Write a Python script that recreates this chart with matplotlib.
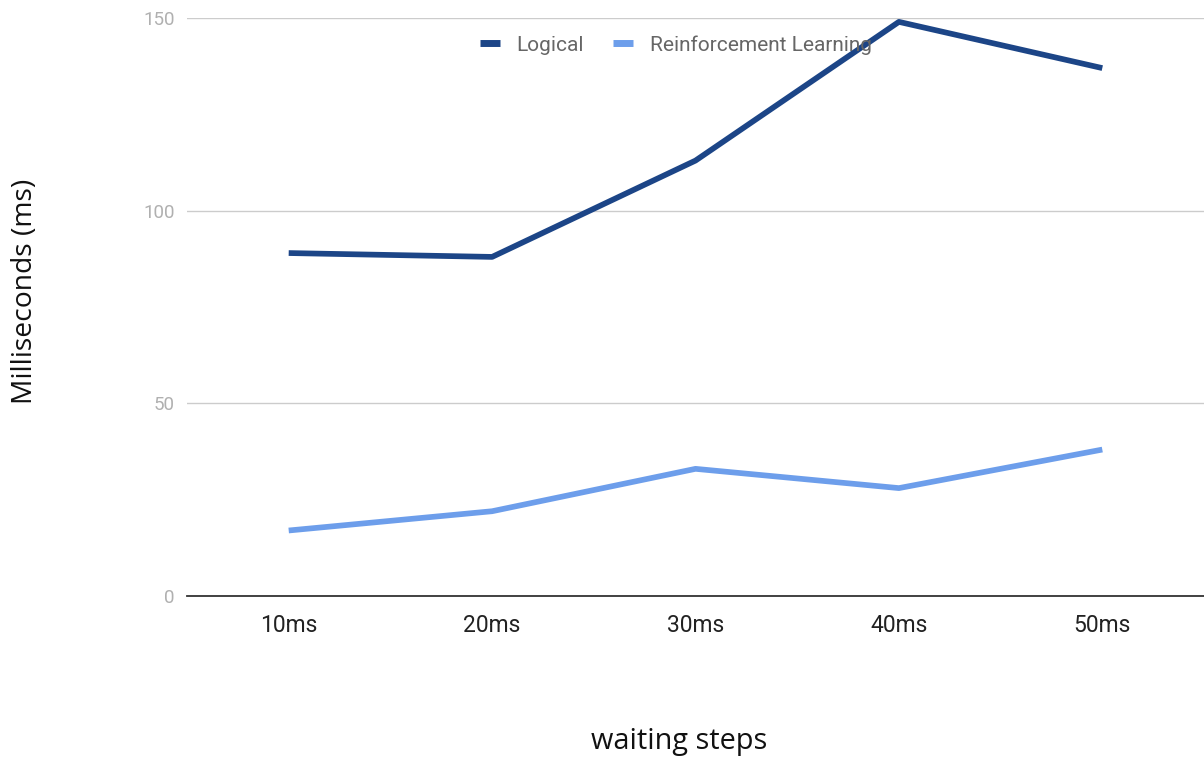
import matplotlib
matplotlib.use("Agg")
import matplotlib.pyplot as plt
import numpy as np

categories = ["10ms", "20ms", "30ms", "40ms", "50ms"]
logical = [89, 88, 113, 149, 137]
reinforcement = [17, 22, 33, 28, 38]
series_names = ["Logical", "Reinforcement Learning"]
y_ticks = [0, 50, 100, 150]

fig = plt.figure(figsize=(12.04, 7.59), dpi=100)
ax = fig.add_axes([187 / 1204, 1 - 596 / 759, 1 - 187 / 1204, (596 - 18) / 759])

x = np.arange(len(categories))
l1, = ax.plot(x, logical, color="#1c4587", lw=4.1, solid_capstyle="butt",
              solid_joinstyle="round", clip_on=False, zorder=3)
l2, = ax.plot(x, reinforcement, color="#6d9eeb", lw=4.1, solid_capstyle="butt",
              solid_joinstyle="round", clip_on=False, zorder=3)

ax.set_xlim(-0.5, len(categories) - 0.5)
ax.set_ylim(0, 150)
ax.set_yticks(y_ticks)
ax.set_xticks(x)
ax.set_xticklabels(categories, family="Roboto", fontsize=16.5, color="#222222")
ax.set_yticklabels([str(v) for v in y_ticks], family="Roboto", fontsize=13.5,
                   color="#b0b0b0")
ax.tick_params(axis="both", length=0)
ax.tick_params(axis="x", pad=13)
ax.tick_params(axis="y", pad=9)

ax.grid(axis="y", color="#cccccc", lw=1.0, zorder=0)
ax.set_axisbelow(True)
for side in ["top", "right", "left"]:
    ax.spines[side].set_visible(False)
ax.spines["bottom"].set_color("#333333")
ax.spines["bottom"].set_linewidth(1.3)
ax.spines["bottom"].set_zorder(2)

fig.text(25 / 1204, 1 - 291 / 759, "Milliseconds (ms)", rotation=90,
         ha="center", va="center", family="Open Sans", fontsize=20.3, color="#111111")
fig.text(679 / 1204, 1 - 741 / 759, "waiting steps", ha="center", va="center",
         family="Open Sans", fontsize=20.8, color="#111111")

leg = fig.legend([l1, l2], series_names, loc="center",
                 bbox_to_anchor=(676 / 1204, 1 - 45 / 759), ncol=2, frameon=False,
                 prop={"family": "Roboto", "size": 15}, handlelength=0.96,
                 handletextpad=0.8, columnspacing=1.4, borderpad=0)
for t in leg.get_texts():
    t.set_color("#666666")
for h in leg.legend_handles:
    h.set_linewidth(5)
leg.set_zorder(5)

fig.savefig("out.png", dpi=100)
